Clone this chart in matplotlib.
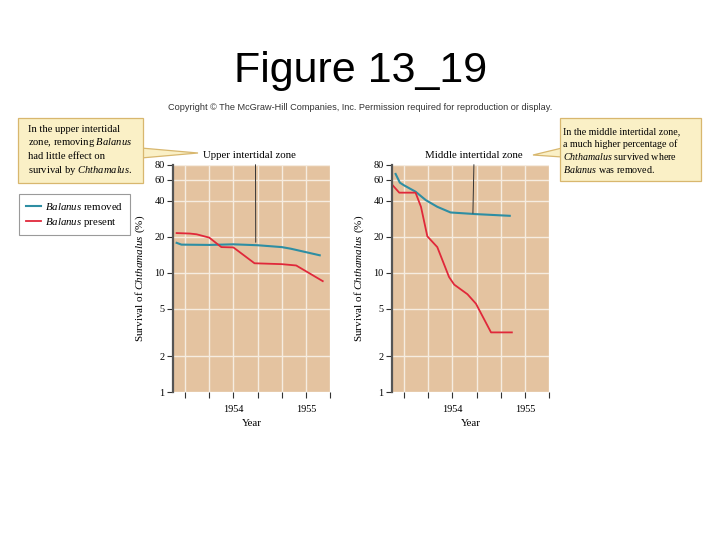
import matplotlib
matplotlib.use("Agg")
import matplotlib.pyplot as plt
from matplotlib.patches import Polygon, Rectangle

plt.rcParams['mathtext.fontset'] = 'custom'
plt.rcParams['mathtext.rm'] = 'Liberation Serif'
plt.rcParams['mathtext.it'] = 'Liberation Serif:italic'

# ---- data (months counted from Jan 1953) ----
upper_removed_m = [2.6, 3.4, 8, 12, 16, 20, 21.5, 26.3]
upper_removed_v = [17.8, 17.2, 17.1, 17.3, 17.0, 16.4, 15.9, 14.0]
upper_present_m = [2.6, 4.8, 5.9, 8, 10, 12, 15.5, 20, 22.4, 26.8]
upper_present_v = [21.5, 21.3, 21.0, 19.7, 16.4, 16.3, 12.0, 11.8, 11.5, 8.5]

middle_removed_m = [2.6, 3.3, 4.0, 5.9, 7.6, 9.5, 11.7, 15.9, 21.5]
middle_removed_v = [67.3, 56.9, 54.0, 47.8, 40.6, 35.7, 32.0, 31.0, 30.0]
middle_present_m = [2.0, 3.2, 5.9, 6.8, 7.85, 9.5, 11.45, 12.3, 14.5, 15.9, 18.4, 21.85]
middle_present_v = [54.9, 46.9, 46.9, 35.7, 20.2, 16.4, 9.2, 7.95, 6.6, 5.5, 3.16, 3.16]

y_ticks = [1, 2, 5, 10, 20, 40, 60, 80]
x_ticks_m = [4, 8, 12, 16, 20, 24, 28]
x_tick_labels = ['', '', '1954', '', '', '1955', '']

def yr(ms):
    return [1953 + m / 12 for m in ms]

TAN = '#e4c3a0'
BLUE = '#2e8ea3'
RED = '#e0283a'
SERIF = 'Liberation Serif'

W, H = 720, 540
fig = plt.figure(figsize=(7.2, 5.4), dpi=100)

def fx(px):
    return px / W

def fy(py):
    return 1 - py / H

fig.text(fx(361), fy(82), 'Figure 13_19', ha='center', va='baseline',
         fontsize=31, family='Liberation Sans')
fig.text(fx(360), fy(107), 'Copyright \u00a9 The McGraw-Hill Companies, Inc. Permission required for reproduction or display.',
         ha='center', va='center', fontsize=6.6, family='Liberation Sans', color='#333333')

def make_axes(left_px, rem_m, rem_v, pre_m, pre_v, title, title_cx, relx, ptr_m, ptr_v):
    ax = fig.add_axes([fx(left_px), fy(392), 157 / W, 227 / H])
    ax.set_facecolor(TAN)
    ax.set_yscale('log')
    ax.set_ylim(1, 80)
    ax.set_xlim(yr([2])[0], yr([28])[0])
    ax.set_yticks(y_ticks)
    ax.set_yticklabels([str(t) for t in y_ticks])
    ax.yaxis.set_minor_locator(matplotlib.ticker.NullLocator())
    ax.set_xticks(yr(x_ticks_m))
    ax.set_xticklabels(x_tick_labels)
    ax.grid(True, color='#f6ece0', lw=1.0)
    ax.set_axisbelow(True)
    for s in ['top', 'right', 'bottom']:
        ax.spines[s].set_visible(False)
    ax.spines['left'].set_color('#555555')
    ax.spines['left'].set_linewidth(1.6)
    ax.tick_params(axis='both', direction='out', length=4, width=0.8,
                   color='#333333', labelsize=7.4, pad=2)
    ax.tick_params(axis='x', pad=5)
    for lab in ax.get_xticklabels() + ax.get_yticklabels():
        lab.set_family(SERIF)
    ax.set_xlabel('Year', family=SERIF, fontsize=7.8, labelpad=4)
    ax.set_ylabel(r'Survival of $\it{Chthamalus}$ (%)', family=SERIF, fontsize=8, labelpad=5)
    l1, = ax.plot(yr(rem_m), rem_v, color=BLUE, lw=1.5, label=r'$\it{Balanus}$ removed')
    l2, = ax.plot(yr(pre_m), pre_v, color=RED, lw=1.3, label=r'$\it{Balanus}$ present')
    ax.annotate(title, xy=(yr([ptr_m])[0], ptr_v), xycoords='data',
                xytext=(title_cx, H - 156), textcoords='figure pixels',
                ha='center', va='center', family=SERIF, fontsize=7.8,
                arrowprops=dict(arrowstyle='-', color='#333333', lw=0.7,
                                relpos=(relx, 0.0), shrinkA=1, shrinkB=0))
    return ax, l1, l2

ax1, h1, h2 = make_axes(173, upper_removed_m, upper_removed_v, upper_present_m, upper_present_v,
                        'Upper intertidal zone', 249, 0.57, 15.7, 18.0)
ax2, _, _ = make_axes(392, middle_removed_m, middle_removed_v, middle_present_m, middle_present_v,
                      'Middle intertidal zone', 473.5, 0.505, 15.4, 31.5)

leg = fig.legend(handles=[h1, h2], loc='upper left', bbox_to_anchor=(fx(19), fy(194)),
                 prop={'family': SERIF, 'size': 7.8}, fancybox=False,
                 edgecolor='#9a9a9a', framealpha=1, handlelength=1.4, handletextpad=0.4,
                 borderpad=0.6, labelspacing=0.4, borderaxespad=0)
leg.get_frame().set_linewidth(0.8)

BOXFILL = '#faf0c6'
BOXEDGE = '#d8b76e'

def callout(x0, y0, x1, y1, wedge):
    poly = Polygon([(fx(x), fy(y)) for x, y in wedge], closed=True, transform=fig.transFigure,
                   facecolor=BOXFILL, edgecolor=BOXEDGE, lw=0.9, zorder=1)
    fig.add_artist(poly)
    rect = Rectangle((fx(x0), fy(y1)), fx(x1) - fx(x0), fy(y0) - fy(y1), transform=fig.transFigure,
                     facecolor=BOXFILL, edgecolor=BOXEDGE, lw=0.9, zorder=2)
    fig.add_artist(rect)

callout(18, 118, 143, 183, [(141, 148), (198, 153), (141, 158)])
callout(560, 118, 701, 181, [(562, 148), (533, 155), (562, 157)])

left_lines = ['In the upper intertidal',
              r'zone, removing $\it{Balanus}$',
              'had little effect on',
              r'survival by $\it{Chthamalus}$.']
for i, t in enumerate(left_lines):
    fig.text(fx(28), fy(129 + 13.7 * i), t, ha='left', va='center', family=SERIF,
             fontsize=7.6, zorder=3)

right_lines = ['In the middle intertidal zone,',
               'a much higher percentage of',
               r'$\it{Chthamalus}$ survived where',
               r'$\it{Balanus}$ was removed.']
for i, t in enumerate(right_lines):
    fig.text(fx(563), fy(131.5 + 12.6 * i), t, ha='left', va='center', family=SERIF,
             fontsize=7.2, zorder=3)

fig.savefig('out.png', dpi=100)
